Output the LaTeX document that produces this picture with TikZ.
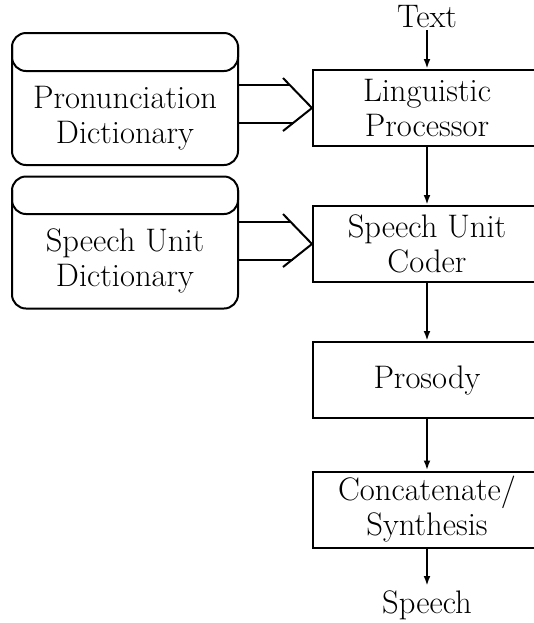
\documentclass[tikz,border=0pt]{standalone}
\usetikzlibrary{calc,arrows.meta}
\begin{document}
\begin{tikzpicture}[x=0.5pt,y=-0.5pt,line width=1pt,
  proc/.style={draw,minimum width=114pt,minimum height=38pt,inner sep=0pt,align=center,font=\fontsize{16.3}{17.5}\selectfont},
  dict/.style={draw,rounded corners=7pt,minimum width=113pt,minimum height=66pt,inner sep=0pt},
  lbl/.style={align=center,inner sep=0pt,font=\fontsize{16.3}{17.5}\selectfont},
  arr/.style={-{Latex[length=5pt,width=3.4pt]}}]
\useasboundingbox (0,0) rectangle (534,623);
\clip (0,0) rectangle (534,623);
% right column
\node[lbl] (text) at (427,17) {Text};
\node[proc] (lp) at (427,108) {Linguistic\\Processor};
\node[proc] (suc) at (427,244) {Speech Unit\\Coder};
\node[proc] (pro) at (427,380) {Prosody};
\node[proc] (cs) at (427,509.5) {Concatenate/\\Synthesis};
\node[lbl] (sp) at (427,605) {Speech};
\draw[arr] (427,30) -- (lp.north);
\draw[arr] (lp.south) -- (suc.north);
\draw[arr] (suc.south) -- (pro.north);
\draw[arr] (pro.south) -- (cs.north);
\draw[arr] (cs.south) -- (427,586);
% dictionaries
\node[dict] (pd) at (125,99) {};
\draw[rounded corners=7pt] (12,45) -- (12,71) -- (238,71) -- (238,45);
\node[lbl] (pdt) at (125,118) {Pronunciation\\Dictionary};
\node[dict] (sud) at (125,242.5) {};
\draw[rounded corners=7pt] (12,190) -- (12,214) -- (238,214) -- (238,190);
\node[lbl] (sudt) at (125,261) {Speech Unit\\Dictionary};
% double arrows
\coordinate (a1) at ($(lp.west)+(-22,-23)$);
\coordinate (a2) at ($(lp.west)+(-19,15)$);
\draw (pd.east |- a1) -- (a1);
\draw (pd.east |- a2) -- (a2);
\draw ($(lp.west)+(-29,-30)$) -- (lp.west) -- ($(lp.west)+(-29,23)$);
\coordinate (b1) at ($(suc.west)+(-22,-22)$);
\coordinate (b2) at ($(suc.west)+(-19,16)$);
\draw (sud.east |- b1) -- (b1);
\draw (sud.east |- b2) -- (b2);
\draw ($(suc.west)+(-29,-30)$) -- (suc.west) -- ($(suc.west)+(-29,23)$);
\end{tikzpicture}
\end{document}
